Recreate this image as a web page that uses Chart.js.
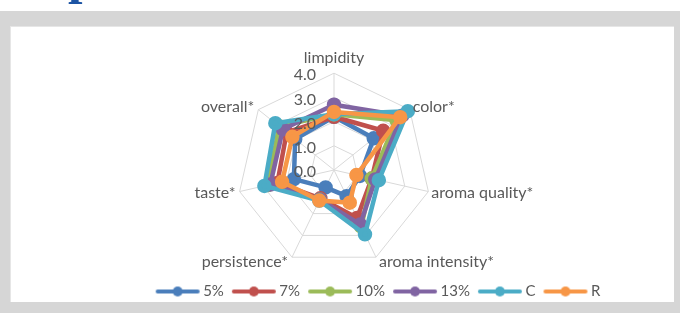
<!DOCTYPE html>
<html>
<head>
<meta charset="utf-8">
<script src="https://cdn.jsdelivr.net/npm/chart.js@4.4.1/dist/chart.umd.min.js"></script>
<style>
  html, body { margin: 0; padding: 0; background: #ffffff; }
  #page { position: relative; width: 680px; height: 313px; overflow: hidden; background: #ffffff; }
  #title { position: absolute; left: 68px; top: -50px; font: bold 52px "Liberation Serif", serif; line-height: 52px; color: #1c54a4; }
  #band { position: absolute; left: 0; top: 11px; width: 680px; height: 302px; background: #d6d6d6; }
  #panel { position: absolute; left: 10px; top: 26px; width: 664px; height: 276px; background: #ffffff; border-top: 1px solid #e6e6e6; border-left: 1px solid #e6e6e6; box-sizing: border-box; }
  #wrap { position: absolute; left: 10px; top: 26px; width: 664px; height: 287px; }
</style>
</head>
<body>
<div id="page">
  <div id="title">p</div>
  <div id="band"></div>
  <div id="panel"></div>
  <div id="wrap"><canvas id="radarChart"></canvas></div>
</div>
<script>
    // axes of the radar
    var labels = ['limpidity', 'color*', 'aroma quality*', 'aroma intensity*', 'persistence*', 'taste*', 'overall*'];

    // scores
    var s5 = [2.2, 2.1, 1.1, 1.2, 0.8, 1.7, 2.05];
    var s7 = [2.2, 2.6, 1.6, 2.2, 1.3, 2.4, 2.5];
    var s10 = [2.3, 3.3, 1.6, 2.6, 1.35, 2.8, 2.9];
    var s13 = [2.7, 3.6, 1.75, 2.5, 1.35, 2.7, 2.7];
    var sC = [2.3, 3.9, 1.9, 2.95, 1.4, 2.95, 3.1];
    var sR = [2.4, 3.5, 0.95, 1.5, 1.4, 2.2, 2.2];

    var names = ['5%', '7%', '10%', '13%', 'C', 'R'];
    var colors = ['#4a7ebb', '#c0504d', '#9bbb59', '#8064a2', '#4bacc6', '#f79646'];
    var series = [s5, s7, s10, s13, sC, sR];

    // legend marker: blank gap, then a short line with a dot in the middle
    function makeMarker(color) {
        var c = document.createElement('canvas');
        c.width = 62;
        c.height = 12;
        var g = c.getContext('2d');
        g.strokeStyle = color;
        g.lineWidth = 4;
        g.lineCap = 'round';
        g.beginPath();
        g.moveTo(17, 6);
        g.lineTo(57, 6);
        g.stroke();
        g.fillStyle = color;
        g.beginPath();
        g.arc(37, 6, 5, 0, Math.PI * 2);
        g.fill();
        return c;
    }

    var datasets = series.map(function (values, i) {
        return {
            label: names[i],
            data: values,
            order: names.length - i, // last series on top, like Excel
            borderColor: colors[i],
            backgroundColor: colors[i],
            pointBackgroundColor: colors[i],
            pointBorderColor: colors[i],
            borderWidth: 4.5,
            pointRadius: 5,
            pointHoverRadius: 5,
            borderJoinStyle: 'round',
            fill: false,
            pointStyle: 'circle',
            legendMarker: makeMarker(colors[i])
        };
    });

    // Excel style texts: tick labels left of the vertical axis,
    // category labels hugging the outer polygon corners
    var excelTexts = {
        id: 'excelTexts',
        afterLayout: function (chart) {
            // the legend sits a little right of centre in the original
            chart.legend.left += 40;
            chart.legend.right += 40;
        },
        afterDatasetsDraw: function (chart) {
            var scale = chart.scales.r;
            var ctx = chart.ctx;
            ctx.save();
            ctx.font = '16px Lato';
            ctx.fillStyle = '#595959';
            ctx.textAlign = 'right';
            ctx.textBaseline = 'middle';
            scale.ticks.forEach(function (t) {
                var d = scale.getDistanceFromCenterForValue(t.value);
                ctx.fillText(t.value.toFixed(1), scale.xCenter - 18, scale.yCenter - d + 2);
            });

            var r = scale.drawingArea;
            chart.data.labels.forEach(function (text, i) {
                var p = scale.getPointPosition(i, r);
                var ux = (p.x - scale.xCenter) / r;
                var uy = (p.y - scale.yCenter) / r;
                if (Math.abs(ux) < 0.05) {
                    ctx.textAlign = 'center';
                    ctx.fillText(text, p.x, p.y - 15);
                } else {
                    ctx.textAlign = ux > 0 ? 'left' : 'right';
                    ctx.fillText(text, p.x + (ux > 0 ? 3 : -4), p.y + 5 * uy);
                }
            });
            ctx.restore();
        }
    };

    var radarConfig = {
        type: 'radar',
        data: { labels: labels, datasets: datasets },
        options: {
            responsive: false,
            animation: false,
            layout: { padding: { left: 0, right: 16, top: 20, bottom: 4 } },
            scales: {
                r: {
                    min: 0,
                    max: 4,
                    ticks: { stepSize: 1, display: false },
                    grid: { color: '#d9d9d9', lineWidth: 1 },
                    angleLines: { color: '#d9d9d9', lineWidth: 1 },
                    // kept for sizing only, drawn by excelTexts
                    pointLabels: {
                        color: 'rgba(0,0,0,0)',
                        font: { family: 'Lato', size: 16 },
                        padding: 3
                    }
                }
            },
            plugins: {
                legend: {
                    position: 'bottom',
                    labels: {
                        usePointStyle: true,
                        pointStyleWidth: 48,
                        color: '#595959',
                        font: { family: 'Lato', size: 15 },
                        padding: 0,
                        generateLabels: function (chart) {
                            return chart.data.datasets.map(function (ds, i) {
                                return {
                                    text: ds.label,
                                    pointStyle: ds.legendMarker,
                                    fillStyle: ds.borderColor,
                                    strokeStyle: ds.borderColor,
                                    fontColor: '#595959',
                                    lineWidth: 0,
                                    hidden: false,
                                    datasetIndex: i
                                };
                            });
                        }
                    }
                },
                tooltip: { enabled: false }
            }
        },
        plugins: [excelTexts]
    };

    var cv = document.getElementById('radarChart');
    cv.width = 664;
    cv.height = 287;
    var radarChart = new Chart(cv, radarConfig);
</script>
</body>
</html>
